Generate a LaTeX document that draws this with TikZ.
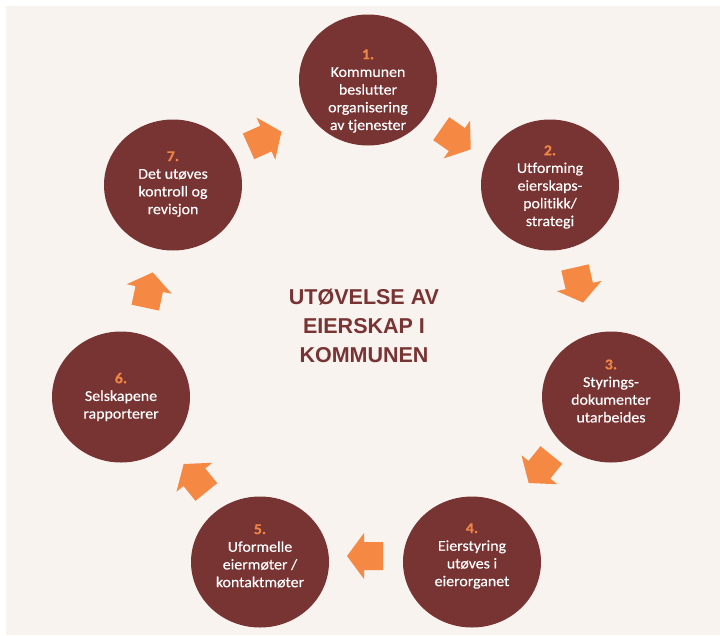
\documentclass[tikz,border=0pt]{standalone}
\usepackage{fontspec}
\setmainfont{Carlito}
\newfontfamily\circfont[FakeStretch=1.06,FakeBold=0.3,Ligatures=NoCommon]{Carlito}
\newfontfamily\titlefont{Liberation Sans}
\usetikzlibrary{shapes.geometric}
\definecolor{bgcol}{RGB}{248,243,239}
\definecolor{maroon}{RGB}{120,51,51}
\definecolor{arrowcol}{RGB}{245,136,66}
\definecolor{numcol}{RGB}{240,134,70}
\newcommand{\stnum}[1]{\textcolor{numcol}{\bfseries #1}}
\tikzset{
  stage/.style={ellipse, fill=maroon, minimum width=138pt, minimum height=131pt, inner sep=0pt},
  stagetext/.style={align=center, inner sep=0pt, text=white, font=\circfont\fontsize{15}{17.7}\selectfont},
  blockarrow/.pic={\fill[arrowcol] (-18,-14) -- (1,-14) -- (1,-23) -- (18,0) -- (1,23) -- (1,14) -- (-18,14) -- cycle;}
}
\begin{document}
\begin{tikzpicture}[x=1pt,y=-1pt]
\useasboundingbox (0,0) rectangle (720,635);
\fill[bgcol] (6,6) rectangle (720,635);
\node[stage] (s1) at (368,80) {};
\node[stage] (s2) at (550,185) {};
\node[stage] (s3) at (611,397) {};
\node[stage] (s4) at (472,562) {};
\node[stage] (s5) at (260,562) {};
\node[stage] (s6) at (121,397) {};
\node[stage] (s7) at (173,185) {};
\node[stagetext] (t1) at (368,91) {\stnum{1.}\\Kommunen\\beslutter\\organisering\\av tjenester};
\node[stagetext] (t2) at (550,187) {\stnum{2.}\\Utforming\\eierskaps-\\politikk/\\strategi};
\node[stagetext] (t3) at (611,391) {\stnum{3.}\\Styrings-\\dokumenter\\utarbeides};
\node[stagetext] (t4) at (472,556) {\stnum{4.}\\Eierstyring\\utøves i\\eierorganet};
\node[stagetext] (t5) at (260,556) {\stnum{5.}\\Uformelle\\eiermøter /\\kontaktmøter};
\node[stagetext] (t6) at (121,397) {\stnum{6.}\\Selskapene\\rapporterer};
\node[stagetext] (t7) at (173,184) {\stnum{7.}\\Det utøves\\kontroll og\\revisjon};
\node[align=center, text=maroon, font=\titlefont\bfseries\fontsize{21.5}{29}\selectfont] (title) at (364,326) {UTØVELSE AV\\EIERSKAP I\\KOMMUNEN};
\coordinate (a71) at (265,139);
\coordinate (a12) at (456,139);
\coordinate (a23) at (579,285);
\coordinate (a34) at (540,469);
\coordinate (a45) at (365,556);
\coordinate (a56) at (195,478);
\coordinate (a67) at (149,290);
\pic[rotate=24] at (a71) {blockarrow};
\pic[rotate=-35] at (a12) {blockarrow};
\pic[rotate=-77] at (a23) {blockarrow};
\pic[rotate=-129] at (a34) {blockarrow};
\pic[rotate=180] at (a45) {blockarrow};
\pic[rotate=129] at (a56) {blockarrow};
\pic[rotate=78] at (a67) {blockarrow};
\end{tikzpicture}
\end{document}
